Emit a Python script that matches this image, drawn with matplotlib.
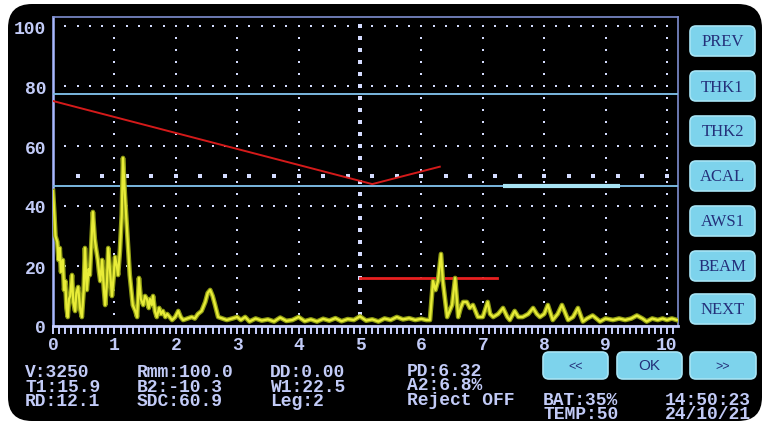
import matplotlib
matplotlib.use("Agg")
import matplotlib.pyplot as plt
import numpy as np
from matplotlib.patches import FancyBboxPatch

# ---------------- data ----------------
trace_x = [0.00, 0.02, 0.04, 0.07, 0.09, 0.11, 0.13, 0.16, 0.18, 0.20, 0.22, 0.24, 0.26, 0.28, 0.31,
           0.33, 0.36, 0.38, 0.41, 0.44, 0.47, 0.50, 0.52, 0.55, 0.58, 0.60, 0.63, 0.65, 0.68,
           0.70, 0.73, 0.75, 0.77, 0.80, 0.83, 0.85, 0.88, 0.90, 0.93, 0.96, 0.99, 1.01, 1.04,
           1.06, 1.09, 1.12, 1.14, 1.17, 1.21, 1.23, 1.25, 1.28, 1.30, 1.34, 1.37, 1.40, 1.43,
           1.47, 1.50, 1.53, 1.56, 1.58, 1.61, 1.63, 1.66, 1.69, 1.73, 1.76, 1.79, 1.83, 1.86,
           1.90, 1.94, 1.99, 2.04, 2.08, 2.12, 2.19, 2.26, 2.31, 2.36, 2.42, 2.48, 2.52, 2.56,
           2.60, 2.64, 2.69, 2.76, 2.83, 2.92, 3.00, 3.06, 3.13,
           3.20, 3.30, 3.40, 3.50, 3.60, 3.70, 3.80, 3.90, 4.00, 4.10, 4.20, 4.30, 4.40, 4.50,
           4.60, 4.70, 4.80, 4.90, 5.00, 5.10, 5.20, 5.30, 5.40, 5.50, 5.60, 5.70, 5.80, 5.90,
           6.00, 6.08, 6.14, 6.19, 6.23, 6.27, 6.32, 6.35, 6.39, 6.42, 6.46, 6.50, 6.55, 6.60,
           6.64, 6.68, 6.74, 6.79, 6.84, 6.92, 7.00, 7.08, 7.12, 7.17, 7.25, 7.33, 7.40, 7.44,
           7.52, 7.58, 7.65, 7.74, 7.82, 7.88, 7.93, 8.00, 8.06, 8.14, 8.22, 8.29, 8.39, 8.47,
           8.55, 8.63, 8.70, 8.79, 8.91, 9.00, 9.12, 9.22, 9.32, 9.42, 9.51, 9.60, 9.67, 9.76,
           9.85, 9.93, 10.00, 10.08, 10.16]
trace_y = [45, 38, 30, 28, 22, 26, 18, 22, 12, 15, 6, 3, 9, 10, 17,
           8, 5, 11, 13, 6, 3, 12, 26, 12, 19, 17, 30, 38, 29,
           26, 22, 18, 15, 22, 12, 7, 15, 26, 18, 10, 17, 23, 20,
           17, 25, 37, 56, 44, 31, 24, 17, 11, 7, 5, 3, 16, 9,
           7, 10, 9, 6, 9, 7, 10, 5, 3, 6, 4, 5, 3, 4,
           3, 2, 3, 5, 3, 2, 2.5, 3, 2.5, 4, 5, 8, 11, 12,
           10, 7, 3, 2.5, 2, 2.5, 3, 2, 3,
           1.5, 2.5, 1.8, 2.2, 1.5, 2.8, 1.7, 2.0, 3.0, 1.6, 2.2, 1.5, 2.4, 1.8,
           2.6, 1.6, 2.3, 2.0, 3.2, 1.8, 2.2, 1.5, 2.5, 2.0, 3.0, 2.2, 2.6, 2.0,
           2.4, 2.0, 2.0, 15, 12, 15, 24, 15, 8, 3, 5, 7, 16, 3,
           6, 8, 8, 6, 7, 3, 3, 8, 4, 3, 4, 6, 3, 2,
           5, 3, 3, 4, 6, 4, 3, 4, 7, 2, 4, 7, 2, 3,
           6, 1.5, 2.5, 3.5, 1.5, 2.5, 2, 2.5, 2, 2.5, 3.5, 2.5, 1.5, 2.5,
           2, 2.5, 2, 2.5, 2]

dac_x = [0.0, 5.2, 6.3]
dac_y = [75.0, 47.3, 53.1]

gate_level = 16
gate_start, gate_end = 5.0, 7.23

blue_levels = [77.3, 46.7]
blue_seg = (7.33, 9.23)

x_ticks = [0, 1, 2, 3, 4, 5, 6, 7, 8, 9, 10]
y_ticks = [0, 20, 40, 60, 80, 100]

top_labels = ["43.90dB", "Amplitude", "BeamPath", "Surf.Dist.", "Depth"]
top_values = ["2.00", "23.0%", "62.1", "58.4", "14.8"]
top_xpix = [60, 183, 318, 442, 589]

side_buttons = ["PREV", "THK1", "THK2", "ACAL", "AWS1", "BEAM", "NEXT"]
side_btn_top = [27, 72, 117, 162, 207, 252, 295]

bottom_cols = [
    (25, ["V:3250", "T1:15.9", "RD:12.1"]),
    (137, ["Rmm:100.0", "B2:-10.3", "SDC:60.9"]),
    (270, ["DD:0.00", "W1:22.5", "Leg:2"]),
]
bottom_rows_base = [377, 392, 406]
right_text = [
    (407, 376, "PD:6.32"), (407, 390, "A2:6.8%"), (407, 405, "Reject OFF"),
    (543, 405, "BAT:35%"), (543, 419, "TEMP:50"),
    (665, 405, "14:50:23"), (665, 419, "24/10/21"),
]
bottom_buttons = [(543, "<<"), (617, "OK"), (690, ">>")]

# ---------------- style ----------------
TXT = "#c2cbf7"
MONO = "Liberation Mono"
FS = 13

fig = plt.figure(figsize=(7.67, 4.27), dpi=100, facecolor="white")

ov = fig.add_axes([0, 0, 1, 1], zorder=0)
ov.set_xlim(0, 767)
ov.set_ylim(427, 0)
ov.axis("off")
ov.add_patch(FancyBboxPatch((8, 5), 754, 417, boxstyle="round,pad=0,rounding_size=24",
                            facecolor="black", edgecolor="none"))

for lab, top in zip(side_buttons, side_btn_top):
    ov.add_patch(FancyBboxPatch((690, top), 65, 30, boxstyle="round,pad=0,rounding_size=6",
                                facecolor="#7dd3ec", edgecolor="#a6e4f5", lw=1.2))
    ov.text(722.5, top + 15.5, lab, ha="center", va="center", color="#24307a",
            fontsize=12, family="Liberation Serif")

for left, lab in bottom_buttons:
    w = 67 if left != 690 else 68
    ov.add_patch(FancyBboxPatch((left, 353), w - 2, 27, boxstyle="round,pad=0,rounding_size=6",
                                facecolor="#7dd3ec", edgecolor="#a6e4f5", lw=1.2))
    ov.text(left + (w - 2) / 2, 366.5, lab, ha="center", va="center", color="#24307a",
            fontsize=11 if lab == "OK" else 9, family="Liberation Sans")

for x, lab, val in zip(top_xpix, top_labels, top_values):
    ov.text(x, 50, lab, ha="left", va="baseline", color=TXT, fontsize=FS,
            family=MONO, fontweight="bold")
    ov.text(x, 64, val, ha="left", va="baseline", color=TXT, fontsize=FS,
            family=MONO, fontweight="bold")

for x, lines in bottom_cols:
    for yb, s in zip(bottom_rows_base, lines):
        ov.text(x, yb, s, ha="left", va="baseline", color=TXT, fontsize=FS,
                family=MONO, fontweight="bold")
for x, yb, s in right_text:
    ov.text(x, yb, s, ha="left", va="baseline", color=TXT, fontsize=FS,
            family=MONO, fontweight="bold")

# ---------------- plot area ----------------
ax = fig.add_axes([53 / 767, 100 / 427, 625 / 767, 309 / 427], zorder=1)
ax.set_facecolor("black")
ax.set_xlim(0, 10.18)
ax.set_ylim(0, 103)

# dotted grid
dot_c = "#d4dcff"
gx = np.arange(0.2, 10.01, 0.2)
for lvl in [20, 40, 60, 80, 100]:
    ax.scatter(gx, np.full_like(gx, lvl), s=3.5, marker="s", color=dot_c, linewidths=0, zorder=2)
bx = np.arange(0.4, 10.01, 0.4)
ax.scatter(bx, np.full_like(bx, 50), s=9, marker="s", color=dot_c, linewidths=0, zorder=2)
gy = np.arange(4, 101, 4)
for v in range(1, 11):
    ax.scatter(np.full_like(gy, v, dtype=float), gy, s=3.5 if v != 5 else 5, marker="s",
               color=dot_c, linewidths=0, zorder=2)

for lvl in blue_levels:
    ax.axhline(lvl, color="#7ab8e0", lw=1.4, zorder=3)
ax.plot(blue_seg, [blue_levels[1]] * 2, color="#a8e4f4", lw=3, zorder=3, solid_capstyle="butt")

ax.plot(dac_x, dac_y, color="#d41a1a", lw=1.4, zorder=4)
ax.plot([gate_start, gate_end], [gate_level] * 2, color="#e82020", lw=2, zorder=4)

ax.plot(trace_x, trace_y, color="#8f9c14", lw=3.4, zorder=5, solid_joinstyle="round")
ax.plot(trace_x, trace_y, color="#e8ec38", lw=1.6, zorder=6, solid_joinstyle="round")

for side in ["top", "right"]:
    ax.spines[side].set_color("#7f8ed0")
    ax.spines[side].set_linewidth(1.2)
ax.spines["left"].set_color("#a8b8ff")
ax.spines["left"].set_linewidth(1.8)
ax.spines["bottom"].set_color("#c8d0ff")
ax.spines["bottom"].set_linewidth(2)

ax.set_xticks(x_ticks)
ax.set_xticklabels([str(t) for t in x_ticks])
ax.set_xticks(np.arange(0, 10.11, 0.1), minor=True)
ax.set_yticks(y_ticks)
ax.set_yticklabels([str(t) for t in y_ticks])
ax.tick_params(axis="x", which="both", direction="out", length=6, width=1.4, color="#c8d0ff",
               labelcolor=TXT, labelsize=13, pad=1)
ax.tick_params(axis="y", which="both", length=0, labelcolor=TXT, labelsize=13, pad=5)
for lab in ax.get_xticklabels() + ax.get_yticklabels():
    lab.set_family(MONO)
    lab.set_fontweight("bold")

fig.savefig("out.png", dpi=100, facecolor="white")
